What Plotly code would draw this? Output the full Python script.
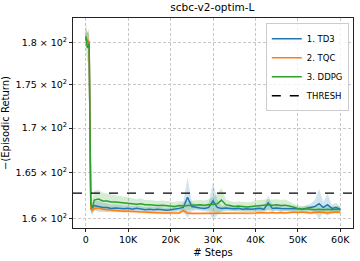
import plotly.graph_objects as go

steps = [0, 400, 800, 1200, 1600, 2000] + list(range(3000, 60001, 1000))

td3_mean = [180.5, 180.2, 180.0, 161.0, 161.2, 161.4,
            161.3, 161.2, 161.2, 161.1, 161.15, 161.1, 161.05, 161.1, 161.0, 161.1,
            161.05, 160.95, 161.0, 160.95, 161.0, 160.95, 160.9, 160.95, 161.0, 161.1,
            161.2, 162.3, 161.3, 161.2, 161.15, 161.1, 161.2, 161.9, 161.2, 161.1,
            161.15, 161.1, 161.05, 161.1, 161.0, 161.05, 161.0, 161.05, 161.1, 161.0,
            161.7, 161.1, 161.15, 161.1, 161.1, 161.05, 161.1, 161.05, 161.0, 161.1,
            161.2, 161.3, 161.6, 161.2, 161.5, 161.1, 161.2, 161.0]
td3_std = [1.0, 1.0, 1.0, 0.5, 0.5, 0.5,
           0.6, 0.5, 0.45, 0.4, 0.4, 0.35, 0.35, 0.35, 0.3, 0.35,
           0.3, 0.3, 0.3, 0.3, 0.3, 0.3, 0.25, 0.3, 0.3, 0.3,
           0.5, 2.2, 0.5, 0.3, 0.3, 0.3, 0.5, 2.0, 0.8, 0.3,
           0.3, 0.3, 0.25, 0.3, 0.25, 0.25, 0.25, 0.3, 0.3, 0.3,
           0.8, 0.3, 0.3, 0.3, 0.3, 0.25, 0.3, 0.25, 0.25, 0.3,
           0.4, 0.7, 1.6, 0.6, 1.2, 0.4, 0.5, 0.3]

tqc_mean = [180.6, 180.3, 180.1, 161.0, 160.9, 161.1,
            161.15, 161.0, 160.95, 160.9, 160.85, 160.85, 160.8, 160.78, 160.75, 160.72,
            160.7, 160.7, 160.65, 160.65, 160.62, 160.6, 160.6, 160.6, 160.58, 160.6,
            160.85, 160.6, 160.55, 160.55, 160.6, 160.55, 160.55, 160.6, 160.55, 160.6,
            160.55, 160.6, 160.55, 160.6, 160.6, 160.55, 160.6, 160.6, 160.65, 160.6,
            160.6, 160.65, 160.6, 160.65, 160.6, 160.65, 160.7, 160.65, 160.7, 160.65,
            160.6, 160.65, 160.7, 160.65, 160.6, 160.65, 160.7, 160.65]
tqc_std = [1.0, 1.0, 1.0, 0.3, 0.3, 0.3,
           0.25, 0.2, 0.2, 0.2, 0.2, 0.18, 0.18, 0.18, 0.15, 0.15,
           0.15, 0.15, 0.15, 0.15, 0.15, 0.15, 0.15, 0.15, 0.15, 0.15,
           0.3, 0.15, 0.15, 0.15, 0.15, 0.15, 0.15, 0.15, 0.15, 0.15,
           0.15, 0.15, 0.15, 0.15, 0.15, 0.15, 0.15, 0.15, 0.15, 0.15,
           0.15, 0.15, 0.15, 0.15, 0.15, 0.15, 0.15, 0.15, 0.15, 0.15,
           0.15, 0.15, 0.15, 0.15, 0.15, 0.15, 0.15, 0.15]

ddpg_mean = [180.8, 179.4, 179.9, 161.5, 161.2, 162.0,
             162.1, 161.9, 161.9, 161.8, 161.8, 161.75, 161.7, 161.7, 161.6, 161.55,
             161.6, 161.5, 161.5, 161.45, 161.4, 161.45, 161.4, 161.35, 161.3, 161.4,
             161.35, 161.4, 161.45, 161.5, 161.5, 161.45, 161.5, 161.55, 161.6, 162.0,
             161.5, 161.4, 161.3, 161.35, 161.3, 161.25, 161.3, 161.35, 161.4, 161.45,
             161.5, 161.45, 161.5, 161.4, 161.45, 161.35, 161.2, 161.1, 161.0, 161.05,
             161.0, 160.95, 161.0, 160.95, 161.0, 160.95, 161.0, 160.95]
ddpg_std = [1.8, 1.8, 1.8, 0.8, 0.9, 1.0,
            1.0, 0.9, 0.8, 0.8, 0.7, 0.7, 0.65, 0.6, 0.6, 0.55,
            0.6, 0.5, 0.5, 0.5, 0.5, 0.5, 0.5, 0.5, 0.5, 0.5,
            0.5, 0.5, 0.5, 0.5, 0.5, 0.5, 0.6, 0.8, 1.0, 1.3,
            0.6, 0.5, 0.5, 0.5, 0.5, 0.5, 0.5, 0.6, 0.6, 0.6,
            0.6, 0.6, 0.6, 0.6, 0.6, 0.5, 0.4, 0.35, 0.35, 0.35,
            0.35, 0.35, 0.35, 0.35, 0.35, 0.35, 0.35, 0.35]

THRESH = 162.75
series_names = ["1. TD3", "2. TQC", "3. DDPG"]
series_colors = ["#1f77b4", "#ff7f0e", "#2ca02c"]
band_colors = ["rgba(31,119,180,0.2)", "rgba(255,127,14,0.2)", "rgba(44,160,44,0.2)"]
ytick_vals = [160, 165, 170, 175, 180]
ytick_text = ["1.6 × 10<sup>2</sup>", "1.65 × 10<sup>2</sup>", "1.7 × 10<sup>2</sup>",
              "1.75 × 10<sup>2</sup>", "1.8 × 10<sup>2</sup>"]
xtick_vals = [0, 10000, 20000, 30000, 40000, 50000, 60000]
xtick_text = ["0", "10K", "20K", "30K", "40K", "50K", "60K"]

fig = go.Figure()
means = [td3_mean, tqc_mean, ddpg_mean]
stds = [td3_std, tqc_std, ddpg_std]

for m, s, bc in zip(means, stds, band_colors):
    upper = [a + b for a, b in zip(m, s)]
    lower = [a - b for a, b in zip(m, s)]
    fig.add_trace(go.Scatter(x=steps + steps[::-1], y=upper + lower[::-1],
                             fill="toself", fillcolor=bc, line=dict(width=0),
                             mode="lines", hoverinfo="skip", showlegend=False))
for m, name, c in zip(means, series_names, series_colors):
    fig.add_trace(go.Scatter(x=steps, y=m, mode="lines", name=name,
                             line=dict(color=c, width=1.5)))

fig.add_hline(y=THRESH, line=dict(color="black", dash="dash", width=1.3))
fig.add_trace(go.Scatter(x=[None], y=[None], mode="lines", name="THRESH",
                         line=dict(color="black", dash="dash", width=1.3)))

axis_common = dict(showline=True, linecolor="#222", linewidth=1, mirror=True,
                   ticks="outside", ticklen=3, tickcolor="#222",
                   showgrid=True, gridcolor="#c8c8c8", griddash="3px,2px", gridwidth=0.8,
                   zeroline=False, tickfont=dict(size=9.5, color="black"))

fig.update_xaxes(range=[-3000, 63000], tickvals=xtick_vals, ticktext=xtick_text,
                 title=dict(text="# Steps", font=dict(size=10, color="black"), standoff=4),
                 **axis_common)
fig.update_yaxes(type="log", range=[2.20139, 2.26245], tickvals=ytick_vals, ticktext=ytick_text,
                 title=dict(text="−(Episodic Return)", font=dict(size=10, color="black"), standoff=4),
                 **axis_common)

fig.update_layout(
    width=360, height=261,
    margin=dict(l=73, r=7, t=18, b=33, autoexpand=False),
    paper_bgcolor="white", plot_bgcolor="white",
    font=dict(family="DejaVu Sans", size=10, color="black"),
    title=dict(text="scbc-v2-optim-L", x=0.59, xanchor="center", y=0.985, yanchor="top",
               font=dict(size=10.5, color="black")),
    legend=dict(x=0.985, y=0.975, xanchor="right", yanchor="top",
                bgcolor="rgba(255,255,255,0.8)", bordercolor="#cccccc", borderwidth=1,
                font=dict(size=8.5), itemwidth=30, tracegroupgap=0),
    showlegend=True,
)

fig.write_html("out.html", config={"displayModeBar": False},
               post_script="document.body.style.margin='0';document.body.style.padding='0';")
